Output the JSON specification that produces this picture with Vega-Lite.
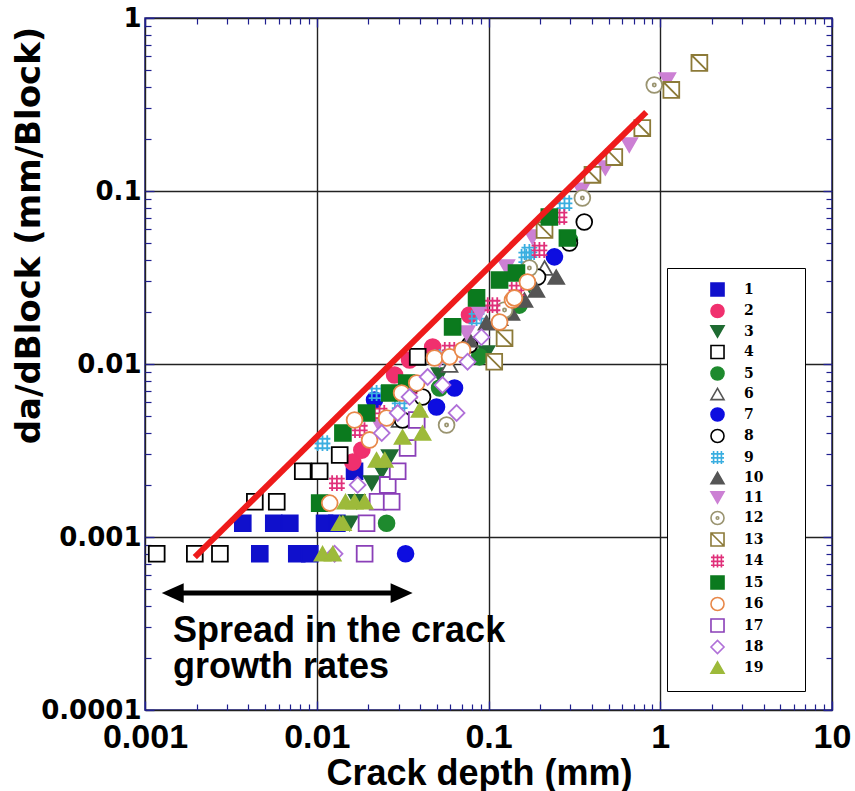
{
  "$schema": "https://vega.github.io/schema/vega-lite/v6.json",
  "width": 687,
  "height": 692,
  "autosize": "none",
  "padding": {"left": 145, "top": 18, "right": 23, "bottom": 81},
  "background": "white",
  "config": {
    "view": {"stroke": "#1F1F8F", "strokeWidth": 1.5},
    "legend": {
      "orient": "none", "legendX": 522, "legendY": 250, "padding": 14,
      "strokeColor": "black", "fillColor": "white",
      "symbolOffset": 29, "labelOffset": 19, "rowPadding": 0.5,
      "labelFont": "DejaVu Serif", "labelFontWeight": "bold", "labelFontSize": 14, "labelColor": "black",
      "symbolSize": 170, "symbolStrokeWidth": 1.6,
      "titleOrient": "right", "titlePadding": 28, "titleFont": "DejaVu Serif", "titleFontSize": 14, "titleColor": "white"
    }
  },
  "datasets": {
    "pts": [
      {"s":1,"x":0.00371,"y":0.0012},{"s":1,"x":0.00562,"y":0.0012},{"s":1,"x":0.00697,"y":0.0012},{"s":1,"x":0.0111,"y":0.0012},{"s":1,"x":0.0131,"y":0.0012},{"s":1,"x":0.00466,"y":0.0008},{"s":1,"x":0.00765,"y":0.0008},{"s":1,"x":0.00911,"y":0.0008},{"s":1,"x":0.0166,"y":0.0024},
      {"s":2,"x":0.0162,"y":0.00271},{"s":2,"x":0.0183,"y":0.00318},{"s":2,"x":0.0284,"y":0.00864},{"s":2,"x":0.0347,"y":0.01055},{"s":2,"x":0.0473,"y":0.01254},{"s":2,"x":0.0775,"y":0.0192},
      {"s":3,"x":0.01555,"y":0.0012},{"s":3,"x":0.0171,"y":0.0016},{"s":3,"x":0.0209,"y":0.00205},{"s":3,"x":0.0239,"y":0.0024},{"s":3,"x":0.0266,"y":0.0029},{"s":3,"x":0.0519,"y":0.00864},{"s":3,"x":0.0974,"y":0.01158},{"s":3,"x":0.173,"y":0.0286},
      {"s":4,"x":0.00117,"y":0.0008},{"s":4,"x":0.00195,"y":0.0008},{"s":4,"x":0.00273,"y":0.0008},{"s":4,"x":0.00436,"y":0.0016},{"s":4,"x":0.00585,"y":0.0016},{"s":4,"x":0.00829,"y":0.0024},{"s":4,"x":0.0104,"y":0.0024},{"s":4,"x":0.0136,"y":0.00298},{"s":4,"x":0.0387,"y":0.011},
      {"s":5,"x":0.0255,"y":0.0012},{"s":5,"x":0.0519,"y":0.00727},{"s":5,"x":0.0886,"y":0.011},{"s":5,"x":0.151,"y":0.0219},{"s":5,"x":0.296,"y":0.0521},
      {"s":6,"x":0.0304,"y":0.00475},{"s":6,"x":0.0593,"y":0.00987},{"s":6,"x":0.116,"y":0.0184},{"s":6,"x":0.212,"y":0.0359},
      {"s":7,"x":0.0329,"y":0.0008},{"s":7,"x":0.0217,"y":0.00619},{"s":7,"x":0.0498,"y":0.00564},{"s":7,"x":0.0634,"y":0.00727},{"s":7,"x":0.242,"y":0.0416},
      {"s":8,"x":0.0316,"y":0.00475},{"s":8,"x":0.0413,"y":0.00645},{"s":8,"x":0.0775,"y":0.0129},{"s":8,"x":0.193,"y":0.0318},{"s":8,"x":0.296,"y":0.0501},{"s":8,"x":0.361,"y":0.0662},
      {"s":9,"x":0.0108,"y":0.00349},{"s":9,"x":0.0223,"y":0.0068},{"s":9,"x":0.0304,"y":0.00595},{"s":9,"x":0.0519,"y":0.011},{"s":9,"x":0.0852,"y":0.0184},{"s":9,"x":0.166,"y":0.0416},{"s":9,"x":0.173,"y":0.0444},{"s":9,"x":0.277,"y":0.0852},
      {"s":10,"x":0.0775,"y":0.0138},{"s":10,"x":0.0974,"y":0.0173},{"s":10,"x":0.136,"y":0.0197},{"s":10,"x":0.162,"y":0.0234},{"s":10,"x":0.19,"y":0.0268},{"s":10,"x":0.248,"y":0.0318},
      {"s":11,"x":0.0232,"y":0.00444},{"s":11,"x":0.0519,"y":0.01055},{"s":11,"x":0.0745,"y":0.0151},{"s":11,"x":0.0886,"y":0.0197},{"s":11,"x":0.127,"y":0.0364},{"s":11,"x":0.18,"y":0.0542},{"s":11,"x":0.347,"y":0.101},{"s":11,"x":0.479,"y":0.136},{"s":11,"x":0.66,"y":0.1845},{"s":11,"x":1.1,"y":0.438},
      {"s":12,"x":0.057,"y":0.00444},{"s":12,"x":0.124,"y":0.0205},{"s":12,"x":0.173,"y":0.0359},{"s":12,"x":0.352,"y":0.0911},{"s":12,"x":0.923,"y":0.41},
      {"s":13,"x":0.108,"y":0.0103},{"s":13,"x":0.124,"y":0.0141},{"s":13,"x":0.212,"y":0.0595},{"s":13,"x":0.403,"y":0.124},{"s":13,"x":0.54,"y":0.157},{"s":13,"x":0.786,"y":0.231},{"s":13,"x":1.16,"y":0.384},{"s":13,"x":1.69,"y":0.55},
      {"s":14,"x":0.0131,"y":0.00205},{"s":14,"x":0.0178,"y":0.00415},{"s":14,"x":0.0232,"y":0.00521},{"s":14,"x":0.0347,"y":0.0068},{"s":14,"x":0.0593,"y":0.01205},{"s":14,"x":0.1055,"y":0.0219},{"s":14,"x":0.1455,"y":0.0268},{"s":14,"x":0.198,"y":0.0456},{"s":14,"x":0.259,"y":0.0708},
      {"s":15,"x":0.0104,"y":0.00157},{"s":15,"x":0.0142,"y":0.00399},{"s":15,"x":0.0195,"y":0.00521},{"s":15,"x":0.0266,"y":0.0068},{"s":15,"x":0.0334,"y":0.00777},{"s":15,"x":0.0618,"y":0.0164},{"s":15,"x":0.0852,"y":0.0241},{"s":15,"x":0.116,"y":0.0306},{"s":15,"x":0.1455,"y":0.0336},{"s":15,"x":0.226,"y":0.0708},{"s":15,"x":0.288,"y":0.0535},
      {"s":16,"x":0.0119,"y":0.00157},{"s":16,"x":0.0166,"y":0.00475},{"s":16,"x":0.0203,"y":0.00364},{"s":16,"x":0.0255,"y":0.00487},{"s":16,"x":0.0312,"y":0.0068},{"s":16,"x":0.0382,"y":0.00777},{"s":16,"x":0.0485,"y":0.01083},{"s":16,"x":0.0593,"y":0.011},{"s":16,"x":0.0706,"y":0.01205},{"s":16,"x":0.116,"y":0.0175},{"s":16,"x":0.1379,"y":0.02344},{"s":16,"x":0.1416,"y":0.0241},{"s":16,"x":0.1685,"y":0.0298},
      {"s":17,"x":0.019,"y":0.0008},{"s":17,"x":0.0195,"y":0.0012},{"s":17,"x":0.0226,"y":0.0016},{"s":17,"x":0.0273,"y":0.0016},{"s":17,"x":0.0259,"y":0.002},{"s":17,"x":0.0296,"y":0.0024},{"s":17,"x":0.0338,"y":0.00327},{"s":17,"x":0.0382,"y":0.00475},
      {"s":18,"x":0.0127,"y":0.0008},{"s":18,"x":0.0173,"y":0.002},{"s":18,"x":0.0239,"y":0.00399},{"s":18,"x":0.0296,"y":0.00521},{"s":18,"x":0.0347,"y":0.00645},{"s":18,"x":0.0442,"y":0.00841},{"s":18,"x":0.054,"y":0.00756},{"s":18,"x":0.0652,"y":0.00521},{"s":18,"x":0.0755,"y":0.0103},{"s":18,"x":0.091,"y":0.0143},
      {"s":19,"x":0.0108,"y":0.0008},{"s":19,"x":0.0124,"y":0.0008},{"s":19,"x":0.0136,"y":0.0012},{"s":19,"x":0.0142,"y":0.0012},{"s":19,"x":0.0147,"y":0.0016},{"s":19,"x":0.0166,"y":0.0016},{"s":19,"x":0.019,"y":0.0016},{"s":19,"x":0.0223,"y":0.00279},{"s":19,"x":0.0249,"y":0.00279},{"s":19,"x":0.0316,"y":0.00378},{"s":19,"x":0.0413,"y":0.00399},{"s":19,"x":0.0397,"y":0.00542}
    ],
    "fit": [{"x":0.00195,"y":0.000766},{"x":0.829,"y":0.286}],
    "arrow": [{"x1":0.00149,"x2":0.0304,"y":0.000474}],
    "headL": [{"x":0.00145,"y":0.000474}],
    "headR": [{"x":0.0312,"y":0.000474}],
    "note": [{"t":"Spread in the crack","x":0.001456,"y":0.000247},{"t":"growth rates","x":0.001456,"y":0.000153}]
  },
  "resolve": {"axis": {"x": "independent", "y": "independent"}},
  "layer": [
    {
      "data": {"name": "pts"},
      "mark": {"type": "point", "opacity": 1, "strokeWidth": 1.8, "size": 250},
      "encoding": {
        "x": {"field": "x", "type": "quantitative",
          "scale": {"type": "log", "domain": [0.001, 10], "nice": false},
          "axis": {
            "orient": "bottom", "values": [0.001, 0.01, 0.1, 1, 10],
            "labelExpr": "format(datum.value, '~g')",
            "grid": true, "gridColor": "#222222", "gridWidth": 1.4,
            "ticks": false, "domain": false,
            "labelFont": "Liberation Sans", "labelFontWeight": "bold", "labelFontSize": 34, "labelColor": "black",
            "labelPadding": 10, "labelFlush": false, "labelOverlap": false, "labelBound": false,
            "title": "Crack depth (mm)", "titleFont": "Liberation Sans", "titleFontWeight": "bold", "titleFontSize": 36, "titleColor": "black",
            "titleX": 334, "titleY": 74, "titleBaseline": "alphabetic"
          }
        },
        "y": {"field": "y", "type": "quantitative",
          "scale": {"type": "log", "domain": [0.0001, 1], "nice": false},
          "axis": {
            "orient": "left", "values": [0.0001, 0.001, 0.01, 0.1, 1],
            "labelExpr": "format(datum.value, '~g')",
            "grid": true, "gridColor": "#222222", "gridWidth": 1.4,
            "ticks": false, "domain": false,
            "labelFont": "DejaVu Sans", "labelFontWeight": "bold", "labelFontSize": 26, "labelColor": "black",
            "labelPadding": 4, "labelFlush": false, "labelOverlap": false, "labelBound": false,
            "title": "da/dBlock (mm/Block)", "titleFont": "DejaVu Sans", "titleFontWeight": "bold", "titleFontSize": 34, "titleColor": "black",
            "titleX": -106, "titleY": 217, "titleBaseline": "alphabetic"
          }
        },
        "shape": {"field": "s", "type": "ordinal", "title": "\u2003",
          "scale": {"domain": [1,2,3,4,5,6,7,8,9,10,11,12,13,14,15,16,17,18,19],
            "range": ["square","circle","triangle-down","square","circle","triangle-up","circle","circle",
              "M-1,-0.55H1M-1,0.05H1M-1,0.65H1M-0.6,-1V1M0,-1V1M0.6,-1V1",
              "triangle-up","triangle-down",
              "M-1,0A1,1,0,1,1,1,0A1,1,0,1,1,-1,0ZM-0.2,0A0.2,0.2,0,1,0,0.2,0A0.2,0.2,0,1,0,-0.2,0Z",
              "M-1,-1H1V1H-1ZM-1,-1L1,1",
              "M-1,-0.55H1M-1,0.05H1M-1,0.65H1M-0.6,-1V1M0,-1V1M0.6,-1V1",
              "square","circle","square","diamond","triangle-up"]}},
        "fill": {"field": "s", "type": "ordinal", "title": "\u2003",
          "scale": {"domain": [1,2,3,4,5,6,7,8,9,10,11,12,13,14,15,16,17,18,19],
            "range": ["#1010CC","#F0306E","#1F6B32","white","#1E8A2E","white","#0D0DE0","white","transparent","#555555","#CC80D4","white","white","transparent","#0B7A1E","white","white","white","#9DBA3A"]}},
        "stroke": {"field": "s", "type": "ordinal", "title": "\u2003",
          "scale": {"domain": [1,2,3,4,5,6,7,8,9,10,11,12,13,14,15,16,17,18,19],
            "range": ["#1010CC","#F0306E","#1F6B32","black","#1E8A2E","#555555","#0D0DE0","black","#3AAEE0","#555555","#CC80D4","#9A9470","#8C7A38","#E0307A","#0B7A1E","#E8884A","#8A3FB8","#B070D8","#9DBA3A"]}}
      }
    },
    {
      "data": {"name": "fit"},
      "mark": {"type": "line", "color": "#EE1B1B", "strokeWidth": 6},
      "encoding": {
        "x": {"field": "x", "type": "quantitative", "scale": {"type": "log", "domain": [0.001, 10], "nice": false},
          "axis": {"orient": "bottom", "values": [0.001, 0.01, 0.1, 1, 10], "labels": false, "grid": false, "title": null, "domain": false,
            "tickSize": -9, "tickColor": "#1F1F8F", "tickWidth": 1.3}},
        "y": {"field": "y", "type": "quantitative", "scale": {"type": "log", "domain": [0.0001, 1], "nice": false},
          "axis": {"orient": "left", "values": [0.0001, 0.001, 0.01, 0.1, 1], "labels": false, "grid": false, "title": null, "domain": false,
            "tickSize": -9, "tickColor": "#1F1F8F", "tickWidth": 1.3}}
      }
    },
    {
      "data": {"name": "arrow"},
      "mark": {"type": "rule", "color": "black", "strokeWidth": 5},
      "encoding": {
        "x": {"field": "x1", "type": "quantitative", "scale": {"type": "log", "domain": [0.001, 10], "nice": false},
          "axis": {"orient": "bottom", "values": [0.002,0.003,0.004,0.005,0.006,0.007,0.008,0.009,0.02,0.03,0.04,0.05,0.06,0.07,0.08,0.09,0.2,0.3,0.4,0.5,0.6,0.7,0.8,0.9,2,3,4,5,6,7,8,9],
            "labels": false, "grid": false, "title": null, "domain": false, "tickSize": -6, "tickColor": "#1F1F8F", "tickWidth": 1.2}},
        "x2": {"field": "x2"},
        "y": {"field": "y", "type": "quantitative", "scale": {"type": "log", "domain": [0.0001, 1], "nice": false},
          "axis": {"orient": "left", "values": [0.0002,0.0003,0.0004,0.0005,0.0006,0.0007,0.0008,0.0009,0.002,0.003,0.004,0.005,0.006,0.007,0.008,0.009,0.02,0.03,0.04,0.05,0.06,0.07,0.08,0.09,0.2,0.3,0.4,0.5,0.6,0.7,0.8,0.9],
            "labels": false, "grid": false, "title": null, "domain": false, "tickSize": -6, "tickColor": "#1F1F8F", "tickWidth": 1.2}}
      }
    },
    {
      "data": {"name": "headL"},
      "mark": {"type": "point", "shape": "M-1,0L1,-0.9L1,0.9Z", "size": 484, "filled": true, "color": "black", "opacity": 1},
      "encoding": {
        "x": {"field": "x", "type": "quantitative", "scale": {"type": "log", "domain": [0.001, 10], "nice": false},
          "axis": {"orient": "top", "values": [0.001, 0.01, 0.1, 1, 10], "labels": false, "grid": false, "title": null, "domain": false,
            "tickSize": -9, "tickColor": "#1F1F8F", "tickWidth": 1.3}},
        "y": {"field": "y", "type": "quantitative", "scale": {"type": "log", "domain": [0.0001, 1], "nice": false},
          "axis": {"orient": "right", "values": [0.0001, 0.001, 0.01, 0.1, 1], "labels": false, "grid": false, "title": null, "domain": false,
            "tickSize": -9, "tickColor": "#1F1F8F", "tickWidth": 1.3}}
      }
    },
    {
      "data": {"name": "headR"},
      "mark": {"type": "point", "shape": "M1,0L-1,-0.9L-1,0.9Z", "size": 484, "filled": true, "color": "black", "opacity": 1},
      "encoding": {
        "x": {"field": "x", "type": "quantitative", "scale": {"type": "log", "domain": [0.001, 10], "nice": false},
          "axis": {"orient": "top", "values": [0.002,0.003,0.004,0.005,0.006,0.007,0.008,0.009,0.02,0.03,0.04,0.05,0.06,0.07,0.08,0.09,0.2,0.3,0.4,0.5,0.6,0.7,0.8,0.9,2,3,4,5,6,7,8,9],
            "labels": false, "grid": false, "title": null, "domain": false, "tickSize": -6, "tickColor": "#1F1F8F", "tickWidth": 1.2}},
        "y": {"field": "y", "type": "quantitative", "scale": {"type": "log", "domain": [0.0001, 1], "nice": false},
          "axis": {"orient": "right", "values": [0.0002,0.0003,0.0004,0.0005,0.0006,0.0007,0.0008,0.0009,0.002,0.003,0.004,0.005,0.006,0.007,0.008,0.009,0.02,0.03,0.04,0.05,0.06,0.07,0.08,0.09,0.2,0.3,0.4,0.5,0.6,0.7,0.8,0.9],
            "labels": false, "grid": false, "title": null, "domain": false, "tickSize": -6, "tickColor": "#1F1F8F", "tickWidth": 1.2}}
      }
    },
    {
      "data": {"name": "note"},
      "mark": {"type": "text", "align": "left", "baseline": "alphabetic", "font": "Liberation Sans", "fontWeight": "bold", "fontSize": 36, "color": "black"},
      "encoding": {
        "x": {"field": "x", "type": "quantitative", "scale": {"type": "log", "domain": [0.001, 10], "nice": false}, "axis": null},
        "y": {"field": "y", "type": "quantitative", "scale": {"type": "log", "domain": [0.0001, 1], "nice": false}, "axis": null},
        "text": {"field": "t"}
      }
    }
  ]
}
